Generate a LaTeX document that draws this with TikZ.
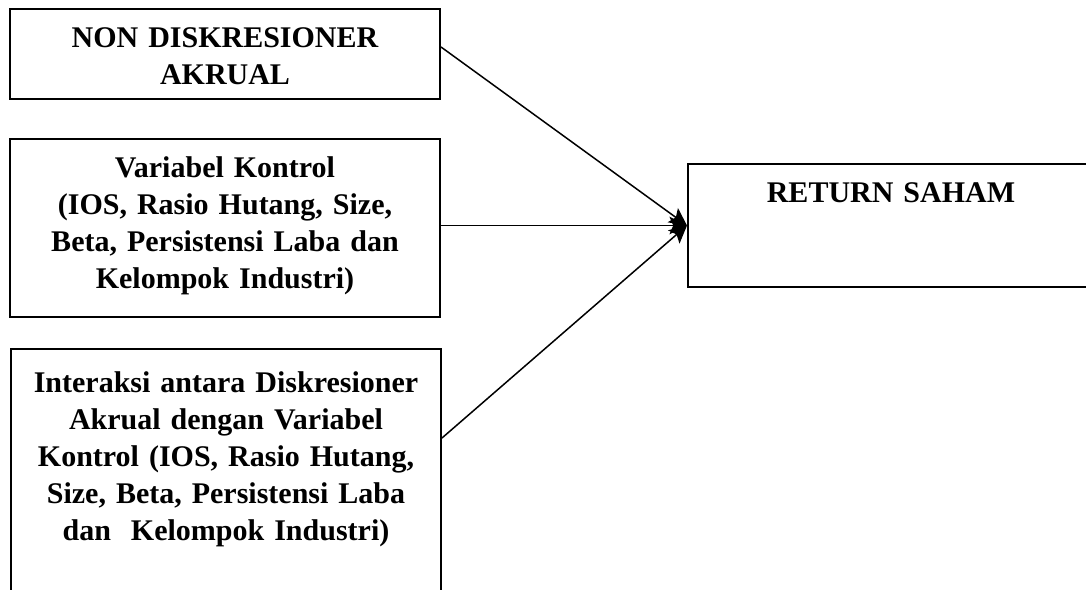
\documentclass[tikz,border=0pt]{standalone}
\usepackage{fontspec}
\setmainfont{Liberation Serif}
\usetikzlibrary{arrows.meta}
\tikzstyle{var box}=[
        draw = black,
        line width = 0.8pt,
        inner sep = 0pt,
        text width = 172pt,
        align = center,
        font = \fontsize{12}{14.8}\selectfont\bfseries,
        text height = 15.6pt,
        anchor = north west
    ]

\begin{document}
\begin{tikzpicture}[x=0.4pt, y=-0.4pt, line width=0.6pt, >={Stealth[length=7pt, width=7pt, inset=1.5pt]}]
        \useasboundingbox (0,0) rectangle (1086,590);

        \node[var box, text depth=20.4pt] (N) at (9,8) {NON DISKRESIONER\\AKRUAL};
        \node[var box, text depth=55.6pt] (K) at (9,138) {Variabel Kontrol\\(IOS, Rasio Hutang, Size,\\Beta, Persistensi Laba dan\\Kelompok Industri)};
        \node[var box, text height=17.6pt, text depth=81.6pt] (I) at (10,348) {Interaksi antara Diskresioner\\Akrual dengan Variabel\\Kontrol (IOS, Rasio Hutang,\\Size, Beta, Persistensi Laba\\dan\ \ Kelompok Industri)};
        \node[var box, text width=162.4pt, text depth=33.6pt] (R) at (687,163) {RETURN SAHAM};

        \draw[->] ([yshift=-15.6pt]N.north east) -- (R.west);
        \draw[->] (K.east |- R.west) -- (R.west);
        \draw[->] ([yshift=-36pt]I.north east) -- (R.west);
    \end{tikzpicture}
\end{document}
